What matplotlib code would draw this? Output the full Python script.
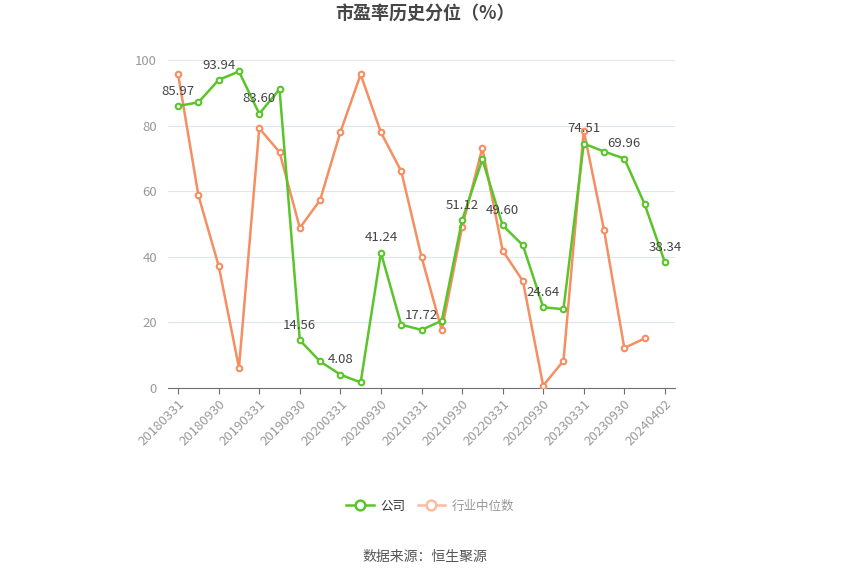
import matplotlib
matplotlib.use("Agg")
import matplotlib.pyplot as plt
from matplotlib.lines import Line2D

plt.rcParams['font.family'] = ['Noto Sans CJK SC', 'DejaVu Sans']

dates = ["20180331", "20180630", "20180930", "20181231", "20190331", "20190630",
         "20190930", "20191231", "20200331", "20200630", "20200930", "20201231",
         "20210331", "20210630", "20210930", "20211231", "20220331", "20220630",
         "20220930", "20221231", "20230331", "20230630", "20230930", "20231231",
         "20240402"]
company = [85.97, 87.1, 93.94, 96.5, 83.60, 91.1, 14.56, 8.1, 4.08, 1.7, 41.24, 19.3,
           17.72, 20.5, 51.12, 69.7, 49.60, 43.5, 24.64, 24.0, 74.51, 72.1, 69.96, 56.1,
           38.34]
industry = [95.6, 58.7, 37.2, 6.2, 79.2, 71.9, 48.8, 57.3, 78.0, 95.6, 77.9, 66.1,
            40.0, 17.6, 49.0, 73.2, 41.9, 32.6, 0.7, 8.3, 78.5, 48.2, 12.2, 15.1, None]
yticks = [0, 20, 40, 60, 80, 100]

green = '#5ac52a'
orange = '#f58f62'

fig = plt.figure(figsize=(8.5, 5.74), dpi=100)
ax = fig.add_axes([168/850, 1-388/574, (675-168)/850, (388-60)/574])

x = list(range(len(dates)))
ix = [i for i, v in zip(x, industry) if v is not None]
iv = [v for v in industry if v is not None]

ax.plot(ix, iv, color=orange, lw=1.8, marker='o', ms=4, mfc='white', mec=orange, mew=1.5, zorder=3)
ax.plot(x, company, color=green, lw=1.8, marker='o', ms=4, mfc='white', mec=green, mew=1.5, zorder=4)

for i in range(0, len(dates), 2):
    ax.annotate(f"{company[i]:.2f}", (i, company[i]), xytext=(0, 6), textcoords='offset points',
                ha='center', va='bottom', fontsize=9.5, color='#444', zorder=5)

ax.set_xlim(-0.5, len(dates) - 0.5)
ax.set_ylim(0, 100)
ax.set_yticks(yticks)
ax.set_yticklabels([str(v) for v in yticks], color='#999', fontsize=9.5)
ax.set_xticks(x[::2])
ax.set_xticklabels(dates[::2], rotation=45, ha='right', rotation_mode='anchor', color='#999', fontsize=9.5)
ax.tick_params(axis='y', length=0, pad=8)
ax.tick_params(axis='x', length=4, color='#6e7079', pad=3)
ax.grid(axis='y', color='#e0e6f1', lw=0.8)
ax.set_axisbelow(True)
for s in ['top', 'right', 'left']:
    ax.spines[s].set_visible(False)
ax.spines['bottom'].set_color('#6e7079')

fig.text(425/850, 1-14/574, "市盈率历史分位（%）", ha='center', va='center', fontsize=13,
         fontweight='bold', color='#464646')

handles = [Line2D([0], [0], color=green, lw=1.8, marker='o', ms=7, mfc='white', mec=green, mew=1.8),
           Line2D([0], [0], color='#fbbca0', lw=1.8, marker='o', ms=7, mfc='white', mec='#fbbca0', mew=1.8)]
leg = fig.legend(handles, ['公司', '行业中位数'], loc='center', bbox_to_anchor=(430/850, 1-506/574),
                 ncol=2, frameon=False, fontsize=9, handlelength=2.2, columnspacing=1.0, handletextpad=0.5)
leg.get_texts()[0].set_color('#333')
leg.get_texts()[1].set_color('#999')

fig.text(425/850, 1-557/574, "数据来源：恒生聚源", ha='center', va='center', fontsize=10, color='#555')

fig.savefig('out.png', dpi=100)
